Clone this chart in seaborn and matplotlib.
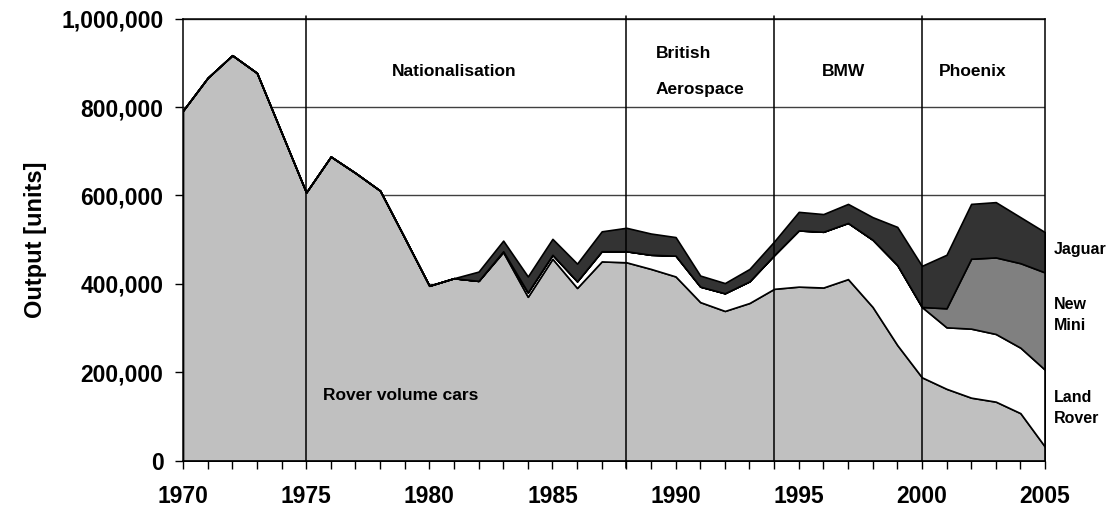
import matplotlib

matplotlib.use("Agg")

import matplotlib.pyplot as plt
import matplotlib.ticker as mticker
import seaborn as sns

# output in thousands of units
years = list(range(1970, 2006))
rover = [792, 866, 917, 877, 742, 607, 688, 651, 611, 504,
         396, 413, 407, 472, 371, 457, 391, 451, 449, 434,
         417, 359, 339, 357, 389, 394, 392, 411, 348, 262,
         189, 163, 143, 134, 108, 32]
land_rover = [0] * 13 + [2, 10, 9, 15, 23, 25, 32,
                         47, 35, 40, 49, 76, 127, 126, 127, 152, 181,
                         159, 139, 156, 153, 148, 174]
new_mini = [0] * 31 + [43, 158, 173, 191, 220]
jaguar = [0] * 12 + [21, 24, 36, 36, 40, 45, 53, 48,
                     42, 25, 23, 28, 31, 42, 40, 43, 51, 86,
                     93, 121, 124, 125, 104, 91]

series_names = ["Rover volume cars", "Land Rover", "New Mini", "Jaguar"]
series_colors = ["#c0c0c0", "#ffffff", "#808080", "#333333"]
period_breaks = [1975, 1988, 1994, 2000]

sns.set_style("white")
plt.rcParams["font.family"] = ["Liberation Sans", "DejaVu Sans"]
plt.rcParams["font.weight"] = "bold"
plt.rcParams["text.color"] = "black"
plt.rcParams["axes.labelcolor"] = "black"
plt.rcParams["xtick.color"] = "black"
plt.rcParams["ytick.color"] = "black"

fig = plt.figure(figsize=(11.16, 5.15), dpi=100)
ax = fig.add_axes([0.164, 0.105, 0.7724, 0.859])

stack = [[v * 1000 for v in s] for s in (rover, land_rover, new_mini, jaguar)]
ax.stackplot(years, *stack, labels=series_names, colors=series_colors,
             edgecolor="black", linewidth=1.2, zorder=2)

ax.set_xlim(1970, 2005)
ax.set_ylim(0, 1_000_000)
ax.set_yticks(range(0, 1_000_001, 200_000))
ax.yaxis.set_major_formatter(mticker.StrMethodFormatter("{x:,.0f}"))
ax.set_xticks(range(1970, 2006, 5))
ax.xaxis.set_minor_locator(mticker.MultipleLocator(1))
ax.tick_params(axis="both", which="both", direction="out", length=6,
               width=1, colors="black", labelsize=16.5, pad=8)
ax.tick_params(axis="x", which="both", bottom=True, pad=11)
ax.tick_params(axis="y", left=True)
for lab in ax.get_xticklabels() + ax.get_yticklabels():
    lab.set_fontweight("bold")

for y in range(200_000, 1_000_001, 200_000):
    ax.axhline(y, color="#404040", linewidth=1, zorder=1)
for x in period_breaks:
    ax.plot([x, x], [-15_000 if x == 1988 else 0, 1_005_000], color="black",
            linewidth=1.1, zorder=3, clip_on=False)

for side in ["left", "bottom", "right", "top"]:
    ax.spines[side].set_visible(True)
    ax.spines[side].set_color("black")
    ax.spines[side].set_linewidth(1.1)
    ax.spines[side].set_zorder(4)

ax.set_ylabel("Output [units]", fontsize=17, fontweight="bold", labelpad=10)

label_kw = dict(fontsize=12.5, fontweight="bold", va="center", zorder=5)
ax.text(1981.0, 880_000, "Nationalisation", ha="center", **label_kw)
ax.text(1989.2, 921_000, "British", ha="left", **label_kw)
ax.text(1989.2, 839_000, "Aerospace", ha="left", **label_kw)
ax.text(1996.8, 880_000, "BMW", ha="center", **label_kw)
ax.text(2000.7, 880_000, "Phoenix", ha="left", **label_kw)
ax.text(1975.7, 147_000, "Rover volume cars", ha="left", **label_kw)

side_kw = dict(fontsize=11.5, fontweight="bold", va="center", ha="left",
               clip_on=False, linespacing=1.5)
ax.text(2005.35, 477_000, "Jaguar", **side_kw)
ax.text(2005.35, 330_000, "New\nMini", **side_kw)
ax.text(2005.35, 120_000, "Land\nRover", **side_kw)

fig.savefig("out.png", dpi=100)
plt.close(fig)
